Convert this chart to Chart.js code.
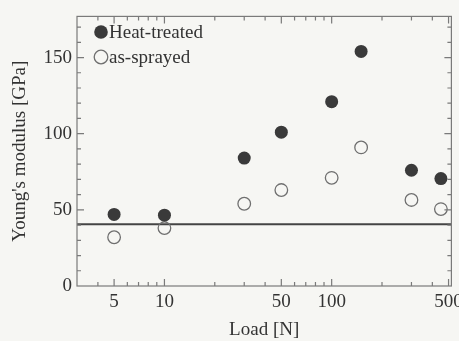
<!DOCTYPE html>
<html>
<head>
    <title>Young's modulus vs load</title>
    <style>
        body {
            margin: 0;
            background: #f6f6f3;
        }
        #chart-box {
            width: 459px;
            height: 341px;
        }
    </style>
</head>
<body>
    <script src="https://cdn.jsdelivr.net/npm/chart.js@4/dist/chart.umd.min.js"></script>
    <div id="chart-box">
        <canvas id="modulusChart" width="459" height="341"></canvas>
    </div>

    <script>
        // data
        const loads = [5, 10, 30, 50, 100, 150, 300, 450];
        const heatTreated = [47, 46.5, 84, 101, 121, 154, 76, 70.5];
        const asSprayed = [32, 38, 54, 63, 71, 91, 56.5, 50.5];
        const refLevel = 40.5;

        const xRange = [3, 520];
        const yRange = [0, 177];
        const xTicks = [3, 4, 5, 6, 7, 8, 9, 10, 20, 30, 40, 50, 60, 70, 80, 90, 100, 200, 300, 400, 500];
        const xTickLabels = [5, 10, 50, 100, 500];
        const yTickLabels = [0, 50, 100, 150];

        const serif = '"Liberation Serif", "Times New Roman", serif';
        const ink = '#3a3a3a';
        const axisGrey = '#7a7a7a';

        // box + inward ticks on all four sides
        const frameTicks = {
            id: 'frameTicks',
            afterDraw(chart) {
                const ctx = chart.ctx;
                const a = chart.chartArea;
                const xs = chart.scales.x, ys = chart.scales.y;
                ctx.save();
                ctx.strokeStyle = axisGrey;
                ctx.lineWidth = 1.2;
                ctx.strokeRect(a.left, a.top, a.right - a.left, a.bottom - a.top);
                ctx.beginPath();
                xs.ticks.forEach(t => {
                    const px = xs.getPixelForValue(t.value);
                    if (px <= a.left + 1 || px >= a.right - 1) return;
                    const len = xTickLabels.includes(t.value) ? 7 : 4;
                    ctx.moveTo(px, a.bottom); ctx.lineTo(px, a.bottom - len);
                    ctx.moveTo(px, a.top); ctx.lineTo(px, a.top + len);
                });
                ys.ticks.forEach(t => {
                    const py = ys.getPixelForValue(t.value);
                    if (py <= a.top + 1 || py >= a.bottom - 1) return;
                    const len = yTickLabels.includes(t.value) ? 7 : 4;
                    ctx.moveTo(a.left, py); ctx.lineTo(a.left + len, py);
                    ctx.moveTo(a.right, py); ctx.lineTo(a.right - len, py);
                });
                ctx.stroke();

                // legend in the top-left corner
                const items = [
                    { label: 'Heat-treated', fill: true, y: 32 },
                    { label: 'as-sprayed', fill: false, y: 57 }
                ];
                ctx.font = '19px ' + serif;
                ctx.textBaseline = 'middle';
                items.forEach(it => {
                    ctx.beginPath();
                    ctx.arc(a.left + 24, it.y, 6.8, 0, Math.PI * 2);
                    if (it.fill) {
                        ctx.fillStyle = ink;
                        ctx.fill();
                    } else {
                        ctx.strokeStyle = '#6f6f6f';
                        ctx.lineWidth = 1.3;
                        ctx.stroke();
                    }
                    ctx.fillStyle = '#333';
                    ctx.fillText(it.label, a.left + 32, it.y + 1);
                });
                ctx.restore();
            }
        };

        new Chart('modulusChart', {
            type: 'scatter',
            data: {
                datasets: [
                    {
                        label: 'Heat-treated',
                        data: loads.map((x, i) => ({ x: x, y: heatTreated[i] })),
                        pointRadius: 6.5,
                        pointBackgroundColor: ink,
                        pointBorderColor: ink,
                        pointBorderWidth: 0
                    },
                    {
                        label: 'as-sprayed',
                        data: loads.map((x, i) => ({ x: x, y: asSprayed[i] })),
                        pointRadius: 6.3,
                        pointBackgroundColor: 'rgba(0,0,0,0)',
                        pointBorderColor: '#6f6f6f',
                        pointBorderWidth: 1.3
                    },
                    {
                        type: 'line',
                        label: 'reference',
                        data: xRange.map(x => ({ x: x, y: refLevel })),
                        borderColor: '#444',
                        borderWidth: 2,
                        pointRadius: 0
                    }
                ]
            },
            options: {
                responsive: false,
                animation: false,
                layout: { padding: { left: 0, right: 4, top: 13, bottom: 0 } },
                plugins: {
                    legend: { display: false },
                    tooltip: { enabled: false }
                },
                scales: {
                    x: {
                        type: 'logarithmic',
                        min: xRange[0],
                        max: xRange[1],
                        grid: { display: false, drawTicks: false, tickLength: 0 },
                        border: { display: false },
                        afterBuildTicks: s => { s.ticks = xTicks.map(v => ({ value: v })); },
                        afterFit: s => { s.height = 55; s.paddingLeft = 0; s.paddingRight = 0; },
                        ticks: {
                            autoSkip: false,
                            maxRotation: 0,
                            padding: 5,
                            color: '#333',
                            font: { family: serif, size: 19 },
                            callback: v => xTickLabels.includes(v) ? String(v) : ''
                        },
                        title: {
                            display: true,
                            text: 'Load [N]',
                            color: '#333',
                            padding: { top: 0, bottom: 0 },
                            font: { family: serif, size: 19 }
                        }
                    },
                    y: {
                        min: yRange[0],
                        max: yRange[1],
                        grid: { display: false, drawTicks: false, tickLength: 0 },
                        border: { display: false },
                        afterBuildTicks: s => {
                            const t = [];
                            for (let v = 0; v <= yRange[1]; v += 10) t.push({ value: v });
                            s.ticks = t;
                        },
                        afterFit: s => { s.width = 77; },
                        ticks: {
                            autoSkip: false,
                            padding: 5,
                            color: '#333',
                            font: { family: serif, size: 19 },
                            callback: v => yTickLabels.includes(v) ? String(v) : ''
                        },
                        title: {
                            display: true,
                            text: "Young's modulus [GPa]",
                            color: '#333',
                            padding: { top: 9, bottom: 0 },
                            font: { family: serif, size: 19 }
                        }
                    }
                }
            },
            plugins: [frameTicks]
        });
    </script>
</body>
</html>
